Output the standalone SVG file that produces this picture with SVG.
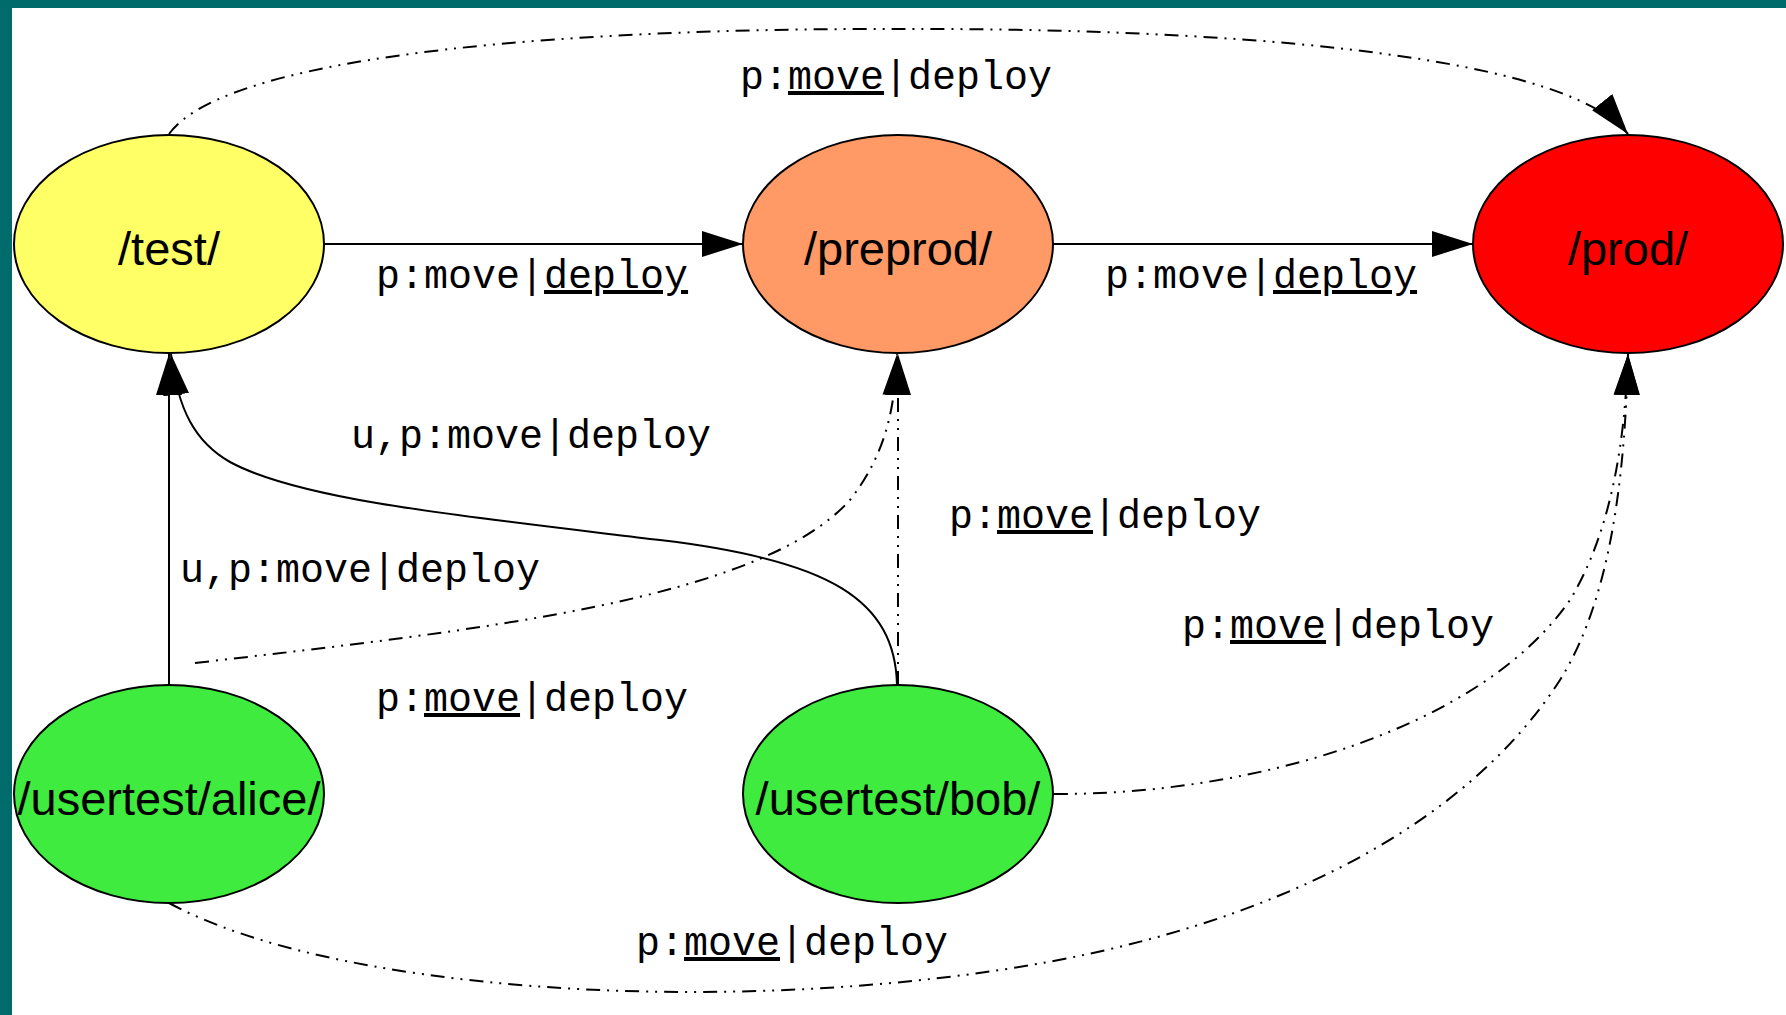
<svg xmlns="http://www.w3.org/2000/svg" width="1786" height="1015" viewBox="0 0 1786 1015">
<style>
.node ellipse{stroke:#000;stroke-width:2}
.node text{font-family:"Liberation Sans",Arial,sans-serif;font-size:47px;text-anchor:middle;fill:#000}
.lbl{font-family:"Liberation Mono","Courier New",monospace;font-size:40px;fill:#000}
.u{text-decoration:underline;text-decoration-thickness:3px}
.e{fill:none;stroke:#000;stroke-width:2}
.d{stroke-dasharray:14 7 2 7 2 7}
</style>
<defs>
<marker id="arr" markerUnits="userSpaceOnUse" viewBox="0 0 42 28" markerWidth="42" markerHeight="28" refX="41" refY="14" orient="auto">
<path d="M0,1 L41,14 L0,27 z" fill="#000"/>
</marker>
</defs>
<rect x="0" y="0" width="1786" height="1015" fill="#fff"/>
<rect x="0" y="0" width="1786" height="8" fill="#006b6b"/>
<rect x="0" y="0" width="12" height="1015" fill="#006b6b"/>
<g id="edges">
<path class="e" d="M324,244 L743,244" marker-end="url(#arr)"/>
<path class="e" d="M1053,244 L1473,244" marker-end="url(#arr)"/>
<path class="e" d="M169,685 L169,354" marker-end="url(#arr)"/>
<path class="e" d="M897,685 C895,600 830,560 660,540 C460,516 300,500 230,462 C195,442 178,410 171,354" marker-end="url(#arr)"/>
<path class="e d" d="M898,685 L898,354" marker-end="url(#arr)"/>
<path class="e d" d="M195,663 C480,630 760,600 850,500 C885,455 895,410 897,354" marker-end="url(#arr)"/>
<path class="e d" d="M1054,794 C1250,795 1480,730 1570,600 C1612,530 1625,440 1628,354" marker-end="url(#arr)"/>
<path class="e d" d="M169,903 C330,990 700,1015 1000,970 C1280,928 1470,820 1560,680 C1610,600 1625,480 1628,354" marker-end="url(#arr)"/>
<path class="e d" d="M169,134 C230,50 600,28 900,29 C1200,28 1560,50 1628,134" marker-end="url(#arr)"/>
<text class="lbl" x="740" y="89">p:<tspan class="u">move</tspan>|deploy</text>
<text class="lbl" x="376" y="288">p:move|<tspan class="u">deploy</tspan></text>
<text class="lbl" x="1105" y="288">p:move|<tspan class="u">deploy</tspan></text>
<text class="lbl" x="351" y="448">u,p:move|deploy</text>
<text class="lbl" x="180" y="582">u,p:move|deploy</text>
<text class="lbl" x="376" y="711">p:<tspan class="u">move</tspan>|deploy</text>
<text class="lbl" x="949" y="528">p:<tspan class="u">move</tspan>|deploy</text>
<text class="lbl" x="1182" y="638">p:<tspan class="u">move</tspan>|deploy</text>
<text class="lbl" x="636" y="955">p:<tspan class="u">move</tspan>|deploy</text>
</g>
<g id="test" class="node"><ellipse cx="169" cy="244" rx="155" ry="109" fill="#ffff66"/><text x="169" y="265">/test/</text></g>
<g id="preprod" class="node"><ellipse cx="898" cy="244" rx="155" ry="109" fill="#ff9966"/><text x="898" y="265">/preprod/</text></g>
<g id="prod" class="node"><ellipse cx="1628" cy="244" rx="155" ry="109" fill="#ff0000"/><text x="1628" y="265">/prod/</text></g>
<g id="alice" class="node"><ellipse cx="169" cy="794" rx="155" ry="109" fill="#3eeb3e"/><text x="169" y="815">/usertest/alice/</text></g>
<g id="bob" class="node"><ellipse cx="898" cy="794" rx="155" ry="109" fill="#3eeb3e"/><text x="898" y="815">/usertest/bob/</text></g>
</svg>
